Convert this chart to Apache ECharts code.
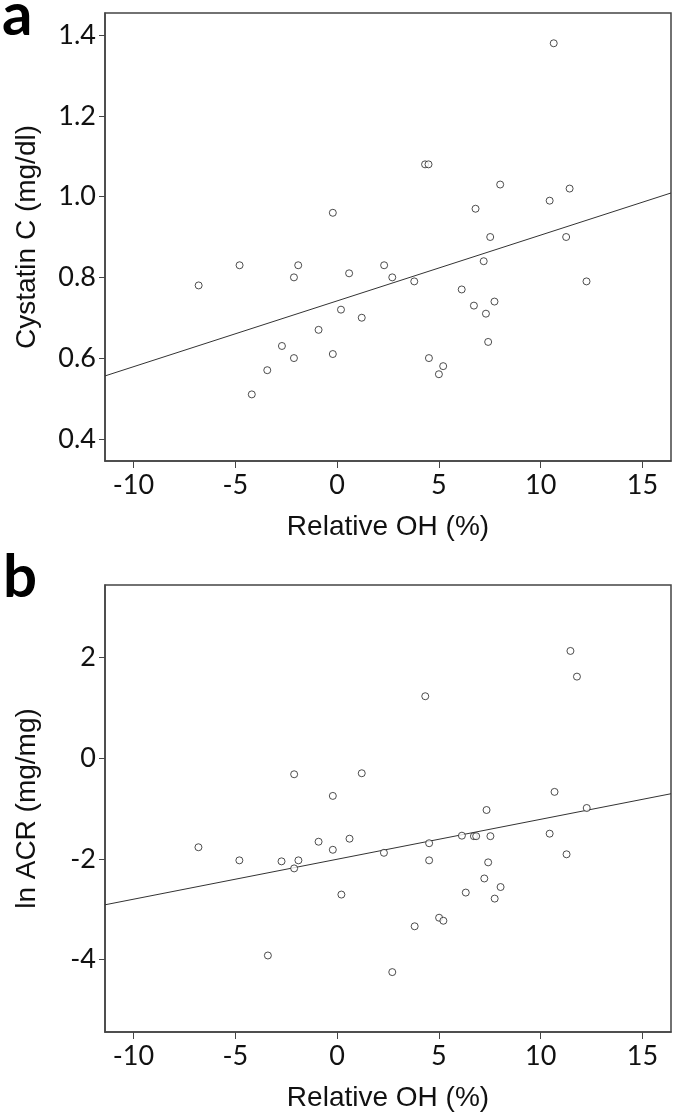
<!DOCTYPE html>
<html>
<head>
<meta charset="utf-8">
<title>Relative OH vs Cystatin C / ln ACR</title>
<style>
  body { margin: 0; padding: 0; background: #fff; }
  #chart { width: 675px; height: 1116px; }
</style>
</head>
<body>
<div id="chart"></div>
<script src="https://cdn.jsdelivr.net/npm/echarts@6/dist/echarts.min.js"></script>
<script>
// panel a: relative OH (%) vs cystatin C (mg/dl)
var ohA = [-6.80, -4.79, -4.19, -3.43, -2.71, -2.12, -2.12, -1.91, -0.91, -0.21, -0.21, 0.19, 0.59, 1.21,
  2.31, 2.71, 3.79, 4.32, 4.49, 4.51, 5.00, 5.21, 6.12, 6.72, 6.80, 7.20, 7.31, 7.42, 7.52, 7.73, 8.01,
  10.44, 10.64, 11.25, 11.42, 12.25];
var cysC = [0.78, 0.83, 0.51, 0.57, 0.63, 0.80, 0.60, 0.83, 0.67, 0.96, 0.61, 0.72, 0.81, 0.70,
  0.83, 0.80, 0.79, 1.08, 1.08, 0.60, 0.56, 0.58, 0.77, 0.73, 0.97, 0.84, 0.71, 0.64, 0.90, 0.74, 1.03,
  0.99, 1.38, 0.90, 1.02, 0.79];

// panel b: relative OH (%) vs ln ACR (mg/mg)
var ohB = [-6.81, -4.80, -3.40, -2.73, -2.11, -2.11, -1.90, -0.91, -0.21, -0.21, 0.21, 0.61, 1.21,
  2.30, 2.71, 3.81, 4.33, 4.52, 4.52, 5.01, 5.22, 6.13, 6.32, 6.72, 6.83, 7.23, 7.34, 7.42, 7.53, 7.74,
  8.03, 10.44, 10.68, 11.27, 11.46, 11.78, 12.26];
var lnAcr = [-1.77, -2.03, -3.92, -2.05, -2.19, -0.32, -2.03, -1.66, -0.75, -1.82, -2.71, -1.60, -0.30,
  -1.88, -4.25, -3.34, 1.23, -1.69, -2.03, -3.17, -3.23, -1.54, -2.67, -1.55, -1.55, -2.39, -1.03, -2.07,
  -1.55, -2.79, -2.56, -1.50, -0.67, -1.91, 2.13, 1.62, -0.99];

// tick labels
var xTicks = [-10, -5, 0, 5, 10, 15];
var yTicksA = [0.4, 0.6, 0.8, 1.0, 1.2, 1.4];
var yTicksB = [-4, -2, 0, 2];

var xRange = [-11.4, 16.4];
var yRangeA = [0.345, 1.455];
var yRangeB = [-5.44, 3.44];

var axisColor = '#444';
var tickFont = 'Lato';
var nameFont = 'Liberation Sans';

function pairs(xs, ys) {
  return xs.map(function (x, i) { return [x, ys[i]]; });
}

// least squares line, drawn across the whole x axis
function fitLine(xs, ys) {
  var n = xs.length, mx = 0, my = 0, sxy = 0, sxx = 0;
  for (var i = 0; i < n; i++) { mx += xs[i]; my += ys[i]; }
  mx /= n; my /= n;
  for (var j = 0; j < n; j++) {
    sxy += (xs[j] - mx) * (ys[j] - my);
    sxx += (xs[j] - mx) * (xs[j] - mx);
  }
  var b = sxy / sxx, a = my - b * mx;
  return [[xRange[0], a + b * xRange[0]], [xRange[1], a + b * xRange[1]]];
}

function makeX(idx) {
  return {
    gridIndex: idx, type: 'value', min: xRange[0], max: xRange[1],
    name: 'Relative OH (%)', nameLocation: 'middle', nameGap: 52,
    nameTextStyle: { fontFamily: nameFont, fontSize: 28, color: '#111' },
    axisLine: { show: true, onZero: false, lineStyle: { color: axisColor, width: 1.5 } },
    axisTick: { show: true, length: 7, customValues: xTicks, lineStyle: { color: axisColor } },
    axisLabel: { customValues: xTicks, fontFamily: tickFont, fontSize: 27, color: '#111', margin: 11 },
    splitLine: { show: false }
  };
}

function makeY(idx, range, ticks, name, fmt) {
  return {
    gridIndex: idx, type: 'value', min: range[0], max: range[1],
    name: name, nameLocation: 'middle', nameGap: 64,
    nameTextStyle: { fontFamily: nameFont, fontSize: 28, color: '#111' },
    axisLine: { show: true, onZero: false, lineStyle: { color: axisColor, width: 1.5 } },
    axisTick: { show: true, length: 6, customValues: ticks, lineStyle: { color: axisColor } },
    axisLabel: { customValues: ticks, fontFamily: tickFont, fontSize: 27, color: '#111', margin: 9, formatter: fmt },
    splitLine: { show: false }
  };
}

function scatter(idx, data) {
  return {
    type: 'scatter', xAxisIndex: idx, yAxisIndex: idx, data: data,
    symbol: 'circle', symbolSize: 7,
    itemStyle: { color: '#fff', borderColor: '#222', borderWidth: 1 },
    z: 3
  };
}

function fitSeries(idx, xs, ys) {
  return {
    type: 'line', xAxisIndex: idx, yAxisIndex: idx, data: fitLine(xs, ys),
    symbol: 'none', clip: true,
    lineStyle: { color: '#333', width: 1 },
    z: 2
  };
}

var chart = echarts.init(document.getElementById('chart'));
chart.setOption({
  animation: false,
  backgroundColor: '#fff',
  grid: [
    { left: 105, top: 13, width: 566, height: 448, show: true, borderColor: axisColor, borderWidth: 1.5 },
    { left: 105, top: 585, width: 566, height: 447, show: true, borderColor: axisColor, borderWidth: 1.5 }
  ],
  graphic: [
    { type: 'text', left: 2, top: -14, style: { text: 'a', font: 'bold 60px Lato', fill: '#000' } },
    { type: 'text', left: 3, top: 548, style: { text: 'b', font: 'bold 60px Lato', fill: '#000' } }
  ],
  xAxis: [makeX(0), makeX(1)],
  yAxis: [
    makeY(0, yRangeA, yTicksA, 'Cystatin C (mg/dl)', function (v) { return v.toFixed(1); }),
    makeY(1, yRangeB, yTicksB, 'ln ACR (mg/mg)', function (v) { return String(v); })
  ],
  series: [
    scatter(0, pairs(ohA, cysC)),
    fitSeries(0, ohA, cysC),
    scatter(1, pairs(ohB, lnAcr)),
    fitSeries(1, ohB, lnAcr)
  ]
});
</script>
</body>
</html>
